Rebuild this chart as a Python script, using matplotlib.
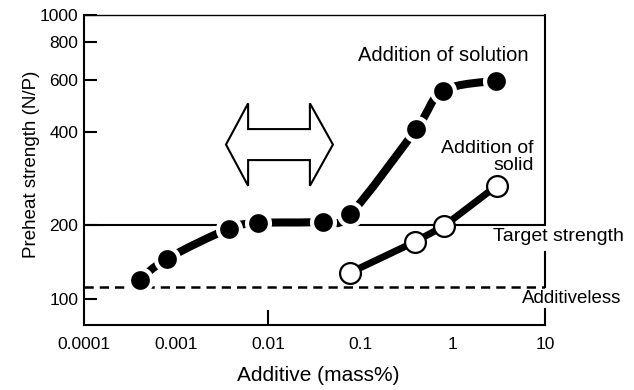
import numpy as np
import matplotlib
matplotlib.use('Agg')
import matplotlib.pyplot as plt
from matplotlib.path import Path
from matplotlib.patches import PathPatch, Polygon
from matplotlib.ticker import FixedLocator, FixedFormatter, NullLocator

plt.rcParams['font.family'] = ['Liberation Sans', 'DejaVu Sans']

# ---- data ----
solution_x = [0.0004, 0.0008, 0.0037, 0.0077, 0.039, 0.077, 0.40, 0.78, 2.94]
solution_y = [120, 146, 193, 203, 205, 217, 409, 551, 597]
solid_x = [0.077, 0.39, 0.80, 3.0]
solid_y = [128, 171, 198, 268]
target_strength = 200
additiveless_strength = 112

x_ticks = [0.0001, 0.001, 0.01, 0.1, 1, 10]
x_tick_labels = ['0.0001', '0.001', '0.01', '0.1', '1', '10']
y_ticks = [100, 200, 400, 600, 800, 1000]
y_tick_labels = ['100', '200', '400', '600', '800', '1000']

# ---- y scale of the original figure (log-like, as printed) ----
_LOG = np.array([1.0, 2.0, np.log10(200), np.log10(400), np.log10(600),
                 np.log10(800), 3.0, 4.0])
_POS = np.array([-220.0, 26.0, 100.0, 193.0, 245.0, 283.0, 310.0, 610.0])


def fwd(y):
    y = np.asarray(y, dtype=float)
    return np.interp(np.log10(np.clip(y, 1e-3, None)), _LOG, _POS)


def inv(v):
    return 10 ** np.interp(np.asarray(v, dtype=float), _POS, _LOG)


fig = plt.figure(figsize=(6.34, 3.9), dpi=100)
ax = fig.add_axes([84 / 634, 65 / 390, 461 / 634, 310 / 390])
ax.set_xscale('log')
ax.set_yscale('function', functions=(fwd, inv))
ax.set_xlim(1e-4, 10)
ax.set_ylim(float(inv(0.0)), 1000)

# smooth curve through the solution points (Catmull-Rom in scale space)
u = np.log10(np.array(solution_x, dtype=float))
v = fwd(solution_y)
P = np.column_stack([u, v])
Pe = np.vstack([P[0], P, P[-1]])
verts = [P[0]]
codes = [Path.MOVETO]
for i in range(len(P) - 1):
    p0, p1, p2, p3 = Pe[i], Pe[i + 1], Pe[i + 2], Pe[i + 3]
    c1 = p1 + (p2 - p0) / 6.0
    c2 = p2 - (p3 - p1) / 6.0
    verts += [c1, c2, p2]
    codes += [Path.CURVE4] * 3
verts = np.array(verts)
verts_data = np.column_stack([10 ** verts[:, 0], inv(verts[:, 1])])
curve = PathPatch(Path(verts_data, codes), transform=ax.transData,
                  fill=False, edgecolor='black', lw=5.8, capstyle='butt',
                  zorder=3)
ax.add_patch(curve)
ax.plot(solution_x, solution_y, 'o', ms=16.5, mfc='black', mec='white',
        mew=3, zorder=4)

ax.plot(solid_x, solid_y, '-', color='black', lw=5, zorder=3)
ax.plot(solid_x, solid_y, 'o', ms=15, mfc='white', mec='black', mew=1.6,
        zorder=5)

# reference lines
ax.axhline(target_strength, color='black', lw=1.5, zorder=2)
ax.axhline(additiveless_strength, color='black', lw=1.8,
           ls=(0, (3.7, 2.4)), zorder=2)

# spines
for s in ['left', 'bottom']:
    ax.spines[s].set_linewidth(1.5)
ax.spines['right'].set_visible(False)
ax.spines['top'].set_linewidth(1.0)
ax.spines['top'].set_linestyle((0, (1.5, 1)))
span = 310.0
ax.axvline(10, ymin=fwd(target_strength) / span, ymax=1,
           color='black', lw=1.5, clip_on=False)
ax.axvline(10, ymin=fwd(additiveless_strength) / span,
           ymax=fwd(155) / span,
           color='black', lw=1.5, clip_on=False)
ax.axvline(10, ymin=0, ymax=0.052, color='black', lw=1.5, clip_on=False)

# ticks
ax.xaxis.set_major_locator(FixedLocator(x_ticks))
ax.xaxis.set_major_formatter(FixedFormatter(x_tick_labels))
ax.xaxis.set_minor_locator(NullLocator())
ax.yaxis.set_major_locator(FixedLocator(y_ticks))
ax.yaxis.set_major_formatter(FixedFormatter(y_tick_labels))
ax.yaxis.set_minor_locator(NullLocator())
ax.tick_params(axis='x', direction='in', length=11, width=1.5, pad=8.5,
               labelsize=12.5)
ax.tick_params(axis='y', direction='in', length=9.5, width=1.5, pad=4,
               labelsize=12.5)
for i, t in enumerate(ax.xaxis.get_major_ticks()):
    t.tick1line.set_visible(i == 2)

ax.set_xlabel('Additive (mass%)', fontsize=15)
ax.xaxis.set_label_coords((318 - 84) / 461, (325 - 366) / 310)
ax.set_ylabel('Preheat strength (N/P)', fontsize=13.5)
ax.yaxis.set_label_coords((40 - 84) / 461, (325 - 164) / 310)

# hollow double arrow
yc, hh, sh = 0.582, 0.133, 0.05
xl, xhl, xhr, xr = 0.308, 0.356, 0.490, 0.540
arrow = Polygon([(xl, yc), (xhl, yc + hh), (xhl, yc + sh), (xhr, yc + sh),
                 (xhr, yc + hh), (xr, yc), (xhr, yc - hh), (xhr, yc - sh),
                 (xhl, yc - sh), (xhl, yc - hh)], closed=True,
                transform=ax.transAxes, facecolor='white', edgecolor='black',
                lw=1.5, zorder=3)
ax.add_patch(arrow)

# annotations
ax.text(0.779, 0.868, 'Addition of solution', transform=ax.transAxes,
        ha='center', va='center', fontsize=14.5)
ax.text(0.976, 0.542, 'Addition of\nsolid', transform=ax.transAxes,
        ha='right', va='center', multialignment='right', linespacing=1.0,
        fontsize=14)
ax.text(0.887, 0.284, 'Target strength', transform=ax.transAxes,
        ha='left', va='center', fontsize=14)
ax.text(0.950, 0.087, 'Additiveless', transform=ax.transAxes,
        ha='left', va='center', fontsize=13.5)

fig.savefig('out.png', dpi=100)
